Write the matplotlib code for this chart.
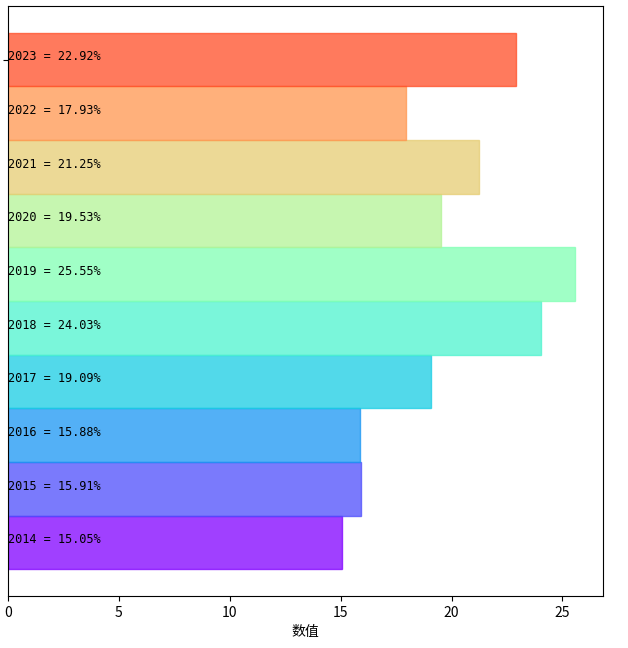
import numpy as np
import matplotlib
matplotlib.use("Agg")
from matplotlib import pyplot as plt

plt.rcParams['font.family'] = ['Noto Sans CJK SC', 'DejaVu Sans']
plt.rcParams['axes.unicode_minus'] = False

years = ["2014", "2015", "2016", "2017", "2018", "2019", "2020", "2021", "2022", "2023"]
values = [15.05, 15.91, 15.88, 19.09, 24.03, 25.55, 19.53, 21.25, 17.93, 22.92]

fig = plt.figure(figsize=(6.28, 6.48), dpi=100)
ax = fig.add_axes([0.0127, 0.0802, 0.9475, 0.9105])

colors = plt.cm.rainbow(np.arange(len(years)) / len(years))
pos = np.arange(len(years))
ax.barh(pos, values, height=1.0, color=colors, edgecolor=colors, linewidth=1, alpha=0.75)

# labels inside the bars, half-width (mono-looking) digits like SimHei
for i, (y, v) in enumerate(zip(years, values)):
    ax.text(0, i + 0.05, f"{y} = {v:.2f}%", va='center', ha='left', fontsize=8.6,
            family=['DejaVu Sans Mono'])

ax.set_xlim(left=0)
ax.set_ylim(-1, 10)
ax.set_yticks([pos[-1]])
ax.set_yticklabels([""])
ax.set_xlabel("数值", fontsize=10)
ax.tick_params(labelsize=10)

fig.savefig("out.png", dpi=100)
